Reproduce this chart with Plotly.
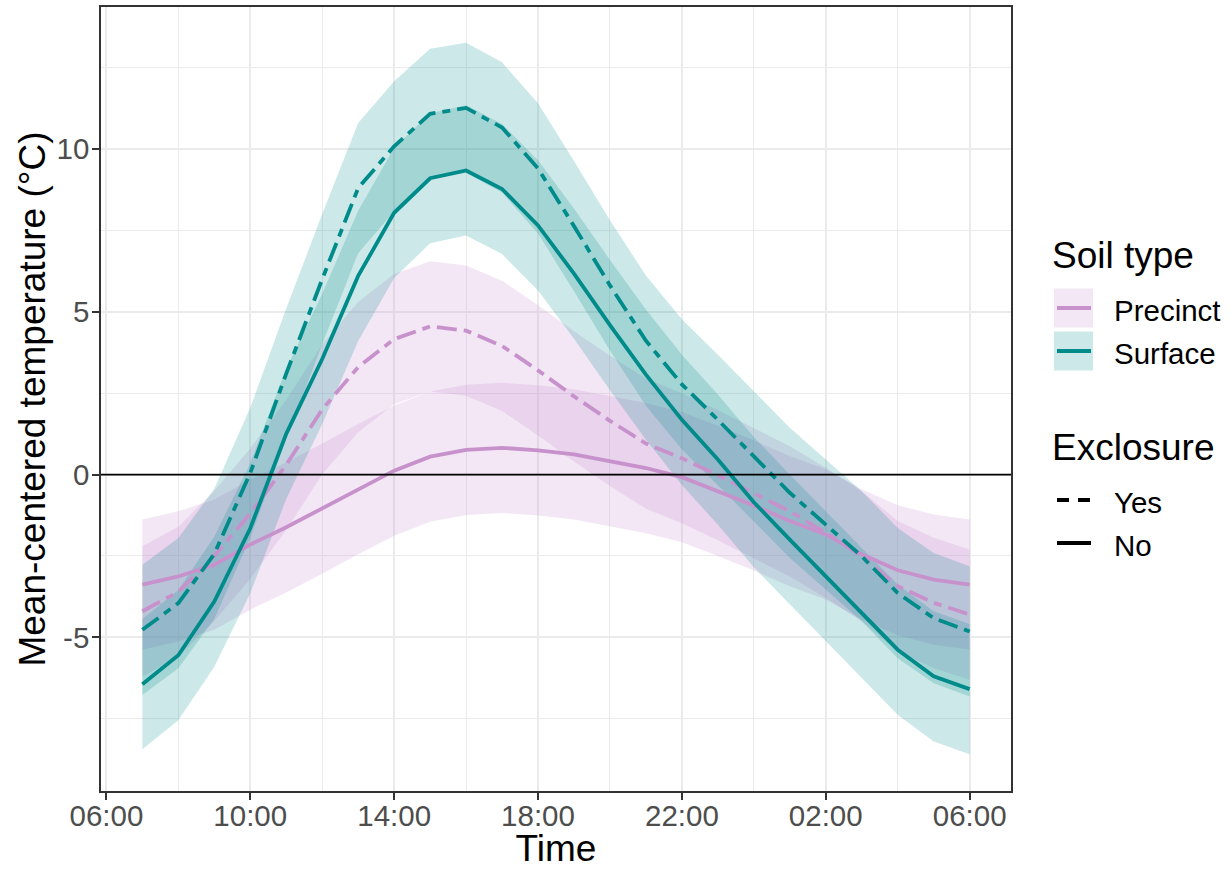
import plotly.graph_objects as go

# ---------------- data ----------------
time = [
    "2021-06-01 07:00", "2021-06-01 08:00", "2021-06-01 09:00", "2021-06-01 10:00",
    "2021-06-01 11:00", "2021-06-01 12:00", "2021-06-01 13:00", "2021-06-01 14:00",
    "2021-06-01 15:00", "2021-06-01 16:00", "2021-06-01 17:00", "2021-06-01 18:00",
    "2021-06-01 19:00", "2021-06-01 20:00", "2021-06-01 21:00", "2021-06-01 22:00",
    "2021-06-01 23:00", "2021-06-02 00:00", "2021-06-02 01:00", "2021-06-02 02:00",
    "2021-06-02 03:00", "2021-06-02 04:00", "2021-06-02 05:00", "2021-06-02 06:00",
]

surface_no = [-6.44, -5.55, -3.90, -1.65, 1.25, 3.55, 6.10, 8.04, 9.10, 9.34, 8.77, 7.65,
              6.17, 4.59, 3.07, 1.68, 0.46, -0.85, -2.00, -3.12, -4.25, -5.38, -6.20, -6.59]
surface_no_lo = [-8.44, -7.55, -5.90, -3.65, -0.75, 1.55, 4.10, 6.04, 7.10, 7.34, 6.77, 5.65,
                 4.17, 2.59, 1.07, -0.32, -1.54, -2.85, -4.00, -5.12, -6.25, -7.38, -8.20, -8.59]
surface_no_hi = [-4.44, -3.55, -1.90, 0.35, 3.25, 5.55, 8.10, 10.04, 11.10, 11.34, 10.77, 9.65,
                 8.17, 6.59, 5.07, 3.68, 2.46, 1.15, 0.00, -1.12, -2.25, -3.38, -4.20, -4.59]

surface_yes = [-4.77, -3.95, -2.44, 0.05, 3.10, 6.00, 8.80, 10.08, 11.08, 11.26, 10.66, 9.40,
               7.63, 5.81, 4.11, 2.77, 1.68, 0.56, -0.56, -1.54, -2.51, -3.64, -4.41, -4.82]
surface_yes_lo = [-6.77, -5.95, -4.44, -1.95, 1.10, 4.00, 6.80, 8.08, 9.08, 9.26, 8.66, 7.40,
                  5.63, 3.81, 2.11, 0.77, -0.32, -1.44, -2.56, -3.54, -4.51, -5.64, -6.41, -6.82]
surface_yes_hi = [-2.77, -1.95, -0.44, 2.05, 5.10, 8.00, 10.80, 12.08, 13.08, 13.26, 12.66, 11.40,
                  9.63, 7.81, 6.11, 4.77, 3.68, 2.56, 1.44, 0.46, -0.51, -1.64, -2.41, -2.82]

precinct_no = [-3.38, -3.13, -2.77, -2.15, -1.62, -1.05, -0.45, 0.12, 0.55, 0.76, 0.82, 0.74,
               0.62, 0.42, 0.20, -0.08, -0.50, -0.95, -1.43, -1.84, -2.45, -2.94, -3.23, -3.38]
precinct_no_lo = [-5.38, -5.13, -4.77, -4.15, -3.62, -3.05, -2.45, -1.88, -1.45, -1.24, -1.18, -1.26,
                  -1.38, -1.58, -1.80, -2.08, -2.50, -2.95, -3.43, -3.84, -4.45, -4.94, -5.23, -5.38]
precinct_no_hi = [-1.38, -1.13, -0.77, -0.15, 0.38, 0.95, 1.55, 2.12, 2.55, 2.76, 2.82, 2.74,
                  2.62, 2.42, 2.20, 1.92, 1.50, 1.05, 0.57, 0.16, -0.45, -0.94, -1.23, -1.38]

precinct_yes = [-4.20, -3.60, -2.50, -1.20, 0.30, 2.00, 3.30, 4.16, 4.55, 4.42, 3.95, 3.20,
                2.40, 1.65, 0.95, 0.50, -0.02, -0.58, -1.13, -1.79, -2.51, -3.43, -3.94, -4.30]
precinct_yes_lo = [-6.20, -5.60, -4.50, -3.20, -1.70, 0.00, 1.30, 2.16, 2.55, 2.42, 1.95, 1.20,
                   0.40, -0.35, -1.05, -1.50, -2.02, -2.58, -3.13, -3.79, -4.51, -5.43, -5.94, -6.30]
precinct_yes_hi = [-2.20, -1.60, -0.50, 0.80, 2.30, 4.00, 5.30, 6.16, 6.55, 6.42, 5.95, 5.20,
                   4.40, 3.65, 2.95, 2.50, 1.98, 1.42, 0.87, 0.21, -0.51, -1.43, -1.94, -2.30]

soil_types = ["Precinct", "Surface"]
exclosure_levels = ["Yes", "No"]
y_tick_values = [-5, 0, 5, 10]
y_tick_labels = ["-5", "0", "5", "10"]

# ---------------- styles ----------------
FONT = "Liberation Sans, Arial, sans-serif"
TEAL = "#008B8B"
TEAL_FILL = "rgba(0,139,139,0.2)"
PURPLE = "#C792CC"
PURPLE_FILL = "rgba(195,135,205,0.2)"
DASH = "20px,7px,8px,7px"
GRID = "#EBEBEB"
LW = 3.8

fig = go.Figure()

ribbons = [
    (precinct_yes_lo, precinct_yes_hi, PURPLE_FILL),
    (precinct_no_lo, precinct_no_hi, PURPLE_FILL),
    (surface_yes_lo, surface_yes_hi, TEAL_FILL),
    (surface_no_lo, surface_no_hi, TEAL_FILL),
]
for lo, hi, fc in ribbons:
    fig.add_trace(go.Scatter(
        x=time + time[::-1], y=hi + lo[::-1], mode="lines", fill="toself",
        fillcolor=fc, line=dict(width=0), hoverinfo="skip", showlegend=False))

lines = [
    (precinct_yes, PURPLE, DASH),
    (precinct_no, PURPLE, "solid"),
    (surface_yes, TEAL, DASH),
    (surface_no, TEAL, "solid"),
]
for y, c, d in lines:
    fig.add_trace(go.Scatter(x=time, y=y, mode="lines",
                             line=dict(color=c, width=LW, dash=d), showlegend=False))

# ---------------- layout ----------------
L, R, T, B = 101, 219, 7, 78
W, H = 1230, 869
PW, PH = W - L - R, H - T - B


def px(xp):
    return (xp - L) / PW


def py(yp):
    return (H - B - yp) / PH


shapes = [dict(type="line", xref="paper", x0=0, x1=1, yref="y", y0=0, y1=0,
               line=dict(color="black", width=1.8), layer="above")]

# manual legend
key_fills = [PURPLE_FILL, TEAL_FILL]
key_lines = [PURPLE, TEAL]
key_y = [308, 351]
annotations = [dict(text="Soil type", x=px(1050), y=py(256), xref="paper", yref="paper",
                    xanchor="left", yanchor="middle", showarrow=False,
                    font=dict(family=FONT, size=37, color="black"))]
for name, fc, lc, yc in zip(soil_types, key_fills, key_lines, key_y):
    shapes.append(dict(type="rect", xref="paper", yref="paper",
                       x0=px(1054), x1=px(1093), y0=py(yc - 19.5), y1=py(yc + 19.5),
                       fillcolor=fc, line=dict(width=0)))
    shapes.append(dict(type="line", xref="paper", yref="paper",
                       x0=px(1057), x1=px(1091), y0=py(yc), y1=py(yc),
                       line=dict(color=lc, width=4)))
    annotations.append(dict(text=name, x=px(1112), y=py(yc + 2), xref="paper", yref="paper",
                            xanchor="left", yanchor="middle", showarrow=False,
                            font=dict(family=FONT, size=29.5, color="black")))

annotations.append(dict(text="Exclosure", x=px(1050), y=py(447), xref="paper", yref="paper",
                        xanchor="left", yanchor="middle", showarrow=False,
                        font=dict(family=FONT, size=37, color="black")))
ex_y = [500, 543]
ex_dash = ["12px,9px", "solid"]
for name, yc, d in zip(exclosure_levels, ex_y, ex_dash):
    shapes.append(dict(type="line", xref="paper", yref="paper",
                       x0=px(1057), x1=px(1091), y0=py(yc), y1=py(yc),
                       line=dict(color="black", width=4, dash=d)))
    annotations.append(dict(text=name, x=px(1112), y=py(yc + 2), xref="paper", yref="paper",
                            xanchor="left", yanchor="middle", showarrow=False,
                            font=dict(family=FONT, size=29.5, color="black")))

fig.update_layout(
    width=W, height=H,
    margin=dict(l=L, r=R, t=T, b=B, autoexpand=False),
    plot_bgcolor="white", paper_bgcolor="white",
    font=dict(family=FONT),
    showlegend=False,
    shapes=shapes,
    annotations=annotations,
    xaxis=dict(
        type="date",
        range=["2021-06-01 05:51", "2021-06-02 07:09"],
        tick0="2021-06-01 06:00", dtick=4 * 3600 * 1000, tickformat="%H:%M",
        showgrid=True, gridcolor=GRID, gridwidth=1.6,
        minor=dict(showgrid=True, gridcolor=GRID, gridwidth=1.0,
                   tick0="2021-06-01 06:00", dtick=2 * 3600 * 1000),
        showline=True, mirror=True, linecolor="#333333", linewidth=1.5,
        ticks="outside", ticklen=7, tickwidth=1.5, tickcolor="#333333",
        ticklabelstandoff=-9,
        tickfont=dict(family=FONT, size=29.5, color="#4D4D4D"),
        title=dict(text="Time", font=dict(family=FONT, size=37, color="black"), standoff=18),
        zeroline=False, automargin=False,
    ),
    yaxis=dict(
        range=[-9.72, 14.36],
        tickmode="array", tickvals=y_tick_values, ticktext=y_tick_labels,
        showgrid=True, gridcolor=GRID, gridwidth=1.6,
        minor=dict(showgrid=True, gridcolor=GRID, gridwidth=1.0, tick0=0, dtick=2.5),
        showline=True, mirror=True, linecolor="#333333", linewidth=1.5,
        ticks="outside", ticklen=7, tickwidth=1.5, tickcolor="#333333",
        ticklabelstandoff=-3,
        tickfont=dict(family=FONT, size=29.5, color="#4D4D4D"),
        title=dict(text="Mean-centered temperature (°C)",
                   font=dict(family=FONT, size=37, color="black"), standoff=0),
        zeroline=False, automargin=False,
    ),
)

fig.write_html("out.html", config={"displayModeBar": False},
               post_script="document.body.style.margin='0px';")
